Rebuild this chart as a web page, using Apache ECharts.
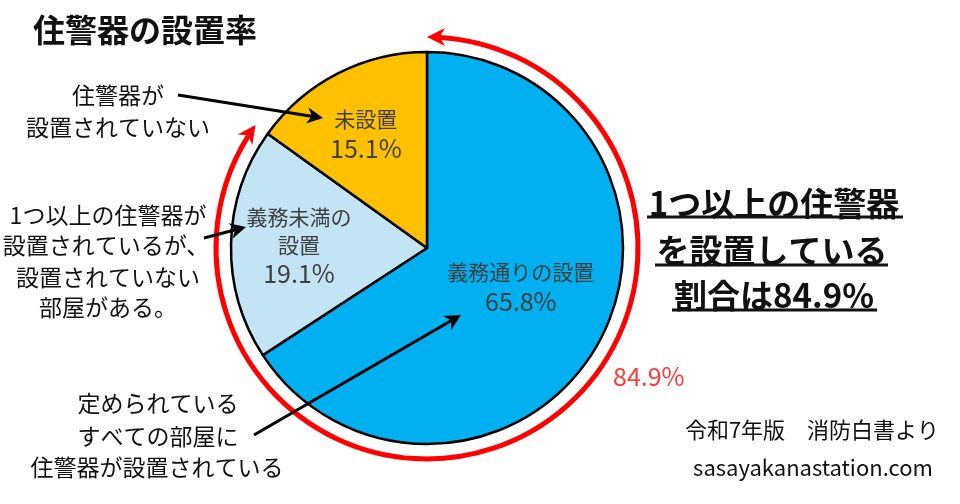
<!DOCTYPE html>
<html>
<head>
<meta charset="utf-8">
<script src="https://cdn.jsdelivr.net/npm/echarts@6/dist/echarts.min.js"></script>
<style>
  html, body { margin: 0; padding: 0; background: #fff; }
  #chart { width: 960px; height: 504px; }
</style>
</head>
<body>
<div id="chart"></div>
<script>
// データ
var categories = ['義務通りの設置', '義務未満の\n設置', '未設置'];
var values = [65.8, 19.1, 15.1];
var colors = ['#00B0F0', '#C3E4F5', '#FFC000'];
var installedShare = values[0] + values[1]; // 84.9

var FONT = '"Noto Sans CJK JP", "Noto Sans", sans-serif';
var cx = 427, cy = 248, pieR = 196, ringR = 211;

// ラベル位置の微調整
var labelShift = [[5, -9], [-27, 0], [-15, -24]];

function txt(text, x, y, size, opt) {
    opt = opt || {};
    return {
        type: 'text', z: 10,
        style: {
            text: text, x: x, y: y,
            font: (opt.bold ? 'bold ' : '') + size + 'px ' + FONT,
            fill: opt.color || '#111',
            align: opt.align || 'center',
            verticalAlign: 'middle'
        }
    };
}

function arrowHead(tip, dir, len, half, color) {
    var nx = -dir[1], ny = dir[0];
    var bx = tip[0] - dir[0] * len, by = tip[1] - dir[1] * len;
    var mx = tip[0] - dir[0] * len * 0.7, my = tip[1] - dir[1] * len * 0.7;
    return {
        type: 'polygon', z: 12,
        shape: { points: [tip, [bx + nx * half, by + ny * half], [mx, my], [bx - nx * half, by - ny * half]] },
        style: { fill: color }
    };
}

// 黒い矢印
function arrow(from, to) {
    var dx = to[0] - from[0], dy = to[1] - from[1];
    var l = Math.sqrt(dx * dx + dy * dy);
    var d = [dx / l, dy / l];
    return [
        {
            type: 'line', z: 11,
            shape: { x1: from[0], y1: from[1], x2: to[0] - d[0] * 10, y2: to[1] - d[1] * 10 },
            style: { stroke: '#000', lineWidth: 3 }
        },
        arrowHead(to, d, 16, 8, '#000')
    ];
}

var chart = echarts.init(document.getElementById('chart'));

var graphics = [];
// 赤い弧（設置済みの割合）
var a0 = -Math.PI / 2;
var a1 = -Math.PI / 2 + 2 * Math.PI * installedShare / 100;
graphics.push({
    type: 'arc', z: 5,
    shape: { cx: cx, cy: cy, r: ringR, startAngle: a0 + 0.06, endAngle: a1 - 0.06, clockwise: true },
    style: { stroke: '#FF0000', lineWidth: 5, fill: null }
});
graphics.push(arrowHead([cx + ringR * Math.cos(a0), cy + ringR * Math.sin(a0)],
    [Math.sin(a0), -Math.cos(a0)], 18, 9, '#FF0000'));
graphics.push(arrowHead([cx + ringR * Math.cos(a1), cy + ringR * Math.sin(a1)],
    [-Math.sin(a1), Math.cos(a1)], 18, 9, '#FF0000'));

// タイトル・注釈
graphics.push(txt('住警器の設置率', 33, 30, 32, { bold: true, align: 'left' }));
graphics.push(txt('住警器が', 118, 95, 23));
graphics.push(txt('設置されていない', 118, 127, 23));
graphics.push(txt('1つ以上の住警器が', 108, 215, 23));
graphics.push(txt('設置されているが、', 106, 245, 23));
graphics.push(txt('設置されていない', 108, 277, 23));
graphics.push(txt('部屋がある。', 108, 307, 23));
graphics.push(txt('定められている', 158, 403, 23));
graphics.push(txt('すべての部屋に', 158, 436, 23));
graphics.push(txt('住警器が設置されている', 157, 467, 23));

graphics.push(txt('1つ以上の住警器', 774, 203, 33, { bold: true }));
graphics.push(txt('を設置している', 772, 250, 33, { bold: true }));
graphics.push(txt('割合は' + installedShare.toFixed(1) + '%', 774, 295, 33, { bold: true }));
[[647, 903, 217], [655, 888, 265], [672, 877, 310]].forEach(function (u) {
    graphics.push({ type: 'line', z: 10, shape: { x1: u[0], y1: u[2], x2: u[1], y2: u[2] }, style: { stroke: '#111', lineWidth: 3 } });
});

graphics.push(txt(installedShare.toFixed(1) + '%', 613, 376, 25, { color: '#FF3B3B', align: 'left' }));
graphics.push(txt('令和7年版　消防白書より', 812, 430, 22));
graphics.push(txt('sasayakanastation.com', 813, 468, 22));

graphics = graphics.concat(arrow([178, 95], [323, 118]));
graphics = graphics.concat(arrow([204, 238], [246, 227]));
graphics = graphics.concat(arrow([254, 435], [461, 315]));

chart.setOption({
    animation: false,
    backgroundColor: '#fff',
    series: [{
        type: 'pie',
        center: [cx, cy],
        radius: pieR,
        startAngle: 90,
        clockwise: true,
        silent: true,
        itemStyle: { borderColor: '#000', borderWidth: 2.5 },
        label: {
            show: true,
            position: 'inside',
            formatter: function (p) {
                return p.name.split('\n').map(function (s) { return '{n|' + s + '}'; }).join('\n') +
                    '\n{v|' + p.value.toFixed(1) + '%}';
            },
            rich: {
                n: { fontFamily: FONT, fontSize: 21, lineHeight: 28, color: '#404040' },
                v: { fontFamily: FONT, fontSize: 25, lineHeight: 30, color: '#404040' }
            }
        },
        labelLayout: function (p) {
            return { dx: labelShift[p.dataIndex][0], dy: labelShift[p.dataIndex][1] };
        },
        data: categories.map(function (c, i) {
            return { name: c, value: values[i], itemStyle: { color: colors[i] } };
        })
    }],
    graphic: graphics
});
</script>
</body>
</html>
